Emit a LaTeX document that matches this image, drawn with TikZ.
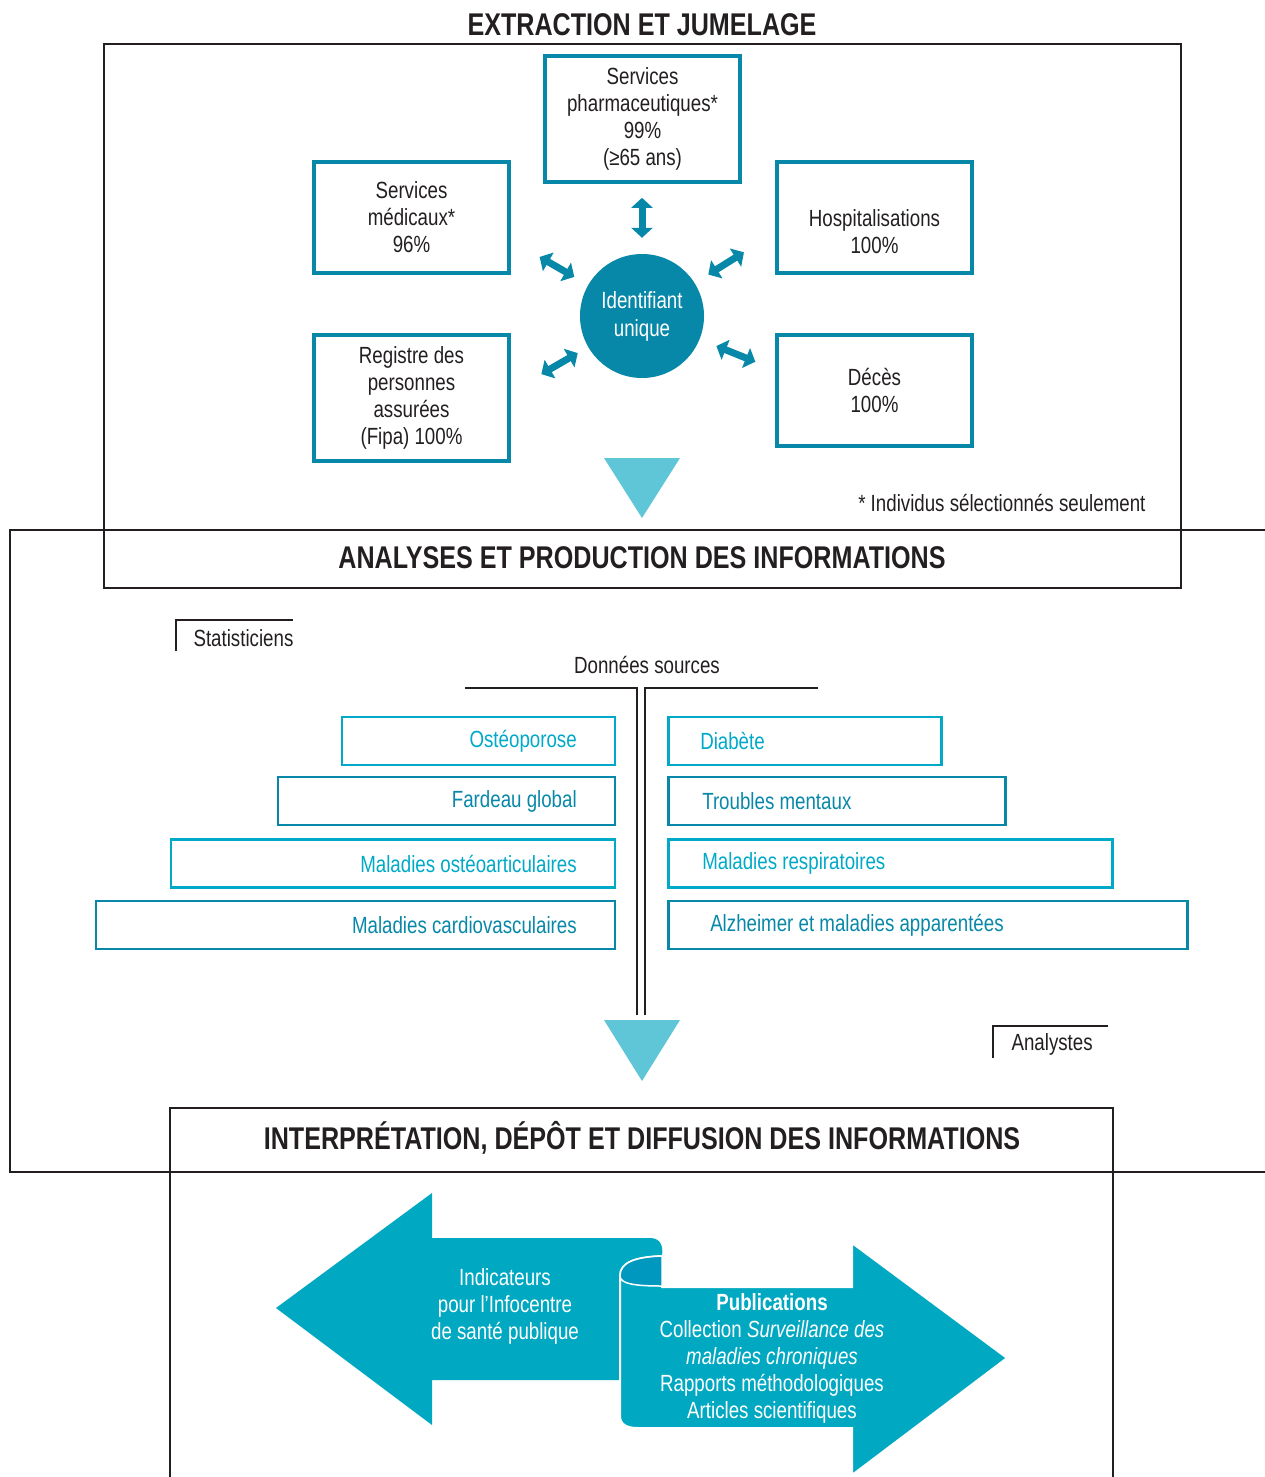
\documentclass[tikz,border=0pt]{standalone}
\usepackage{fontspec}
\setmainfont{Liberation Sans}[FakeStretch=0.8]
\usetikzlibrary{arrows.meta}
\definecolor{tealdark}{HTML}{0888A8}
\definecolor{teallight}{HTML}{00A9C8}
\definecolor{tealfill}{HTML}{00A8C2}
\definecolor{tealroll}{HTML}{0098BE}
\definecolor{tealtri}{HTML}{5EC6D6}
\definecolor{ink}{HTML}{231F20}
\tikzstyle{frame} = [draw=ink, line width=2pt]
\tikzstyle{title} = [font=\fontsize{31.4}{34}\selectfont\bfseries, text=ink]
\tikzstyle{txt} = [font=\fontsize{23.4}{27}\selectfont, text=ink, align=center]
\tikzstyle{source} = [txt, rectangle, draw=tealdark, line width=4pt, minimum width=195pt]
\tikzstyle{hub} = [circle, fill=tealdark, text=white, minimum size=124pt, align=center, font=\fontsize{23.4}{28}\selectfont]
\tikzstyle{link} = [draw=tealdark, line width=7pt, {Triangle[width=21pt,length=10pt]}-{Triangle[width=21pt,length=10pt]}]
\tikzstyle{theme} = [txt, rectangle, line width=2.5pt, minimum height=48pt]
\tikzstyle{lefttheme} = [theme, anchor=east, align=flush right, inner xsep=38pt]
\tikzstyle{righttheme} = [theme, anchor=west, align=flush left, inner xsep=34pt]
\tikzstyle{light} = [draw=teallight, text=teallight]
\tikzstyle{dark} = [draw=tealdark, text=tealdark]
\begin{document}
\begin{tikzpicture}[x=1pt, y=-1pt]
		\useasboundingbox (0,0) rectangle (1265,1477);
		% extraction et jumelage
		\node [title] (title1) at (642,25) {EXTRACTION ET JUMELAGE};
		\draw [frame] (104,44) rectangle (1181,588);
		\node [source, minimum height=126pt] (pharma) at (642.5,119) {Services\\pharmaceutiques*\\99\%\\(≥65 ans)};
		\node [source, minimum height=111pt] (medic) at (411.5,217.5) {Services\\médicaux*\\96\%};
		\node [source, minimum height=111pt] (hosp) at (874.5,217.5) {\strut\\Hospitalisations\\100\%};
		\node [source, minimum height=126pt] (fipa) at (411.5,398) {Registre des\\personnes\\assurées\\(Fipa) 100\%};
		\node [source, minimum height=111pt] (deces) at (874.5,390.5) {Décès\\100\%};
		\node [hub] (hub) at (642,316) {Identifiant\\unique};
		\draw [link] (hub.90) ++(-90:16) -- ++(-90:40);
		\draw [link] (hub.150) ++(-150:16) -- ++(-150:40);
		\draw [link] (hub.32) ++(-32:16) -- ++(-32:42);
		\draw [link] (hub.210) ++(-210:12) -- ++(-210:42);
		\draw [link] (hub.338) ++(-338:18) -- ++(-338:42);
		\fill [tealtri] (604,458) -- (680,458) -- (642,518) -- cycle;
		\node [txt, anchor=east] (note) at (1149,503) {* Individus sélectionnés seulement};

		% analyses et production
		\draw [frame] (1268,530) -- (10,530) -- (10,1172) -- (1268,1172);
		\node [title] (title2) at (642,558) {ANALYSES ET PRODUCTION DES INFORMATIONS};
		\node [txt, anchor=west] (stat) at (190,638) {Statisticiens};
		\draw [frame] (176,651) |- (293,620);
		\node [txt] (donnees) at (647,665) {Données sources};
		\coordinate (stemL) at (637,1015);
		\coordinate (stemR) at (645,1015);
		\draw [frame] (465,688) -| (stemL);
		\draw [frame] (818,688) -| (stemR);

		\node [lefttheme, light, text width=197pt] (osteo) at (616,741) {Ostéoporose};
		\node [lefttheme, dark, text width=261pt] (fardeau) at (616,801) {Fardeau global};
		\node [lefttheme, light, text width=368pt] (articul) at (616,863.5) {Maladies ostéoarticulaires};
		\node [lefttheme, dark, text width=443pt] (cardio) at (616,925) {Maladies cardiovasculaires};
		\node [righttheme, light, text width=209pt, inner xsep=32pt] (diabete) at (667,741) {Diabète};
		\node [righttheme, dark, text width=269pt] (mentaux) at (667,801) {Troubles mentaux};
		\node [righttheme, light, text width=376pt] (respir) at (667,863.5) {Maladies respiratoires};
		\node [righttheme, dark, text width=435pt, inner xsep=42pt] (alzheimer) at (667,925) {Alzheimer et maladies apparentées};

		\fill [tealtri] (604,1020) -- (680,1020) -- (642,1081) -- cycle;
		\node [txt, anchor=west] (analyst) at (1008,1044) {Analystes};
		\draw [frame] (993,1058) |- (1108,1026);

		% interpretation, depot et diffusion
		\draw [frame] (170,1480) -- (170,1108) -- (1113,1108) -- (1113,1480);
		\node [title] (title3) at (642,1138) {INTERPRÉTATION, DÉPÔT ET DIFFUSION DES INFORMATIONS};
		\fill [tealfill] (276,1308) -- (432,1193) -- (432,1238) -- (650,1238) .. controls (662,1238) and (663,1248) .. (662,1256) -- (662,1380) -- (432,1380) -- (432,1425) -- cycle;
		\filldraw [fill=tealfill, draw=white, line width=2pt] (662,1287) -- (852,1287) -- (852,1243) -- (1007,1358) -- (852,1475) -- (852,1428) -- (638,1428) .. controls (626,1428) and (620,1424) .. (620,1416) -- (620,1276) .. controls (620,1262) and (636,1257) .. (662,1256) -- cycle;
		\filldraw [fill=tealroll, draw=white, line width=1.5pt] (662,1256) .. controls (636,1257) and (620,1262) .. (620,1276) .. controls (620,1284) and (636,1286) .. (662,1286) -- cycle;
		\node [txt, text=white] (indic) at (505,1306) {Indicateurs\\pour l’Infocentre\\de santé publique};
		\node [txt, text=white] (pubs) at (772,1358) {\textbf{Publications}\\Collection \textit{Surveillance des}\\\textit{maladies chroniques}\\Rapports méthodologiques\\Articles scientifiques};
	\end{tikzpicture}
\end{document}
